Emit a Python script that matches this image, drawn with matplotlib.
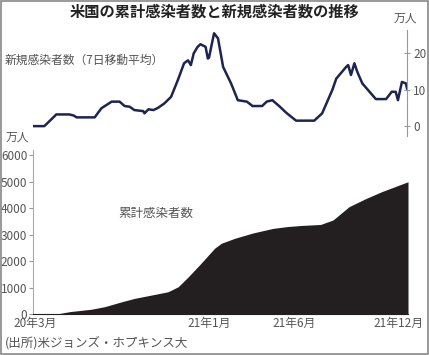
import matplotlib
matplotlib.use("Agg")
import matplotlib.pyplot as plt
import pandas as pd
from matplotlib.patches import Rectangle

plt.rcParams['font.family'] = ['Noto Sans CJK JP', 'DejaVu Sans']

# new cases, 7-day average (万人)
new_dates = ["2020-02-28", "2020-03-17", "2020-04-04", "2020-04-07", "2020-04-30", "2020-05-08",
             "2020-05-13", "2020-06-14", "2020-06-26", "2020-07-14", "2020-07-28", "2020-08-06",
             "2020-08-15", "2020-08-23", "2020-09-08", "2020-09-10", "2020-09-17", "2020-09-26",
             "2020-10-04", "2020-10-15", "2020-10-27", "2020-11-08", "2020-11-19", "2020-11-26",
             "2020-12-01", "2020-12-06", "2020-12-13", "2020-12-18", "2020-12-27", "2020-12-31",
             "2021-01-02", "2021-01-06", "2021-01-11", "2021-01-18", "2021-01-27", "2021-02-10",
             "2021-02-22", "2021-03-10", "2021-03-20", "2021-04-06", "2021-04-14", "2021-04-24",
             "2021-05-06", "2021-05-19", "2021-06-05", "2021-07-07", "2021-07-21", "2021-08-08",
             "2021-08-15", "2021-09-02", "2021-09-05", "2021-09-10", "2021-09-16", "2021-09-21",
             "2021-09-30", "2021-10-15", "2021-10-24", "2021-11-11", "2021-11-21", "2021-11-28",
             "2021-12-02", "2021-12-09", "2021-12-16", "2021-12-18"]
new_cases = [0.0, 0.0, 2.7, 3.2, 3.2, 2.9,
             2.4, 2.4, 4.9, 6.7, 6.7, 5.5,
             5.3, 4.4, 4.1, 3.5, 4.6, 4.4,
             5.0, 6.2, 8.0, 12.6, 17.2, 18.0,
             16.7, 19.9, 21.7, 22.4, 21.7, 18.5,
             18.7, 21.7, 25.4, 24.0, 16.2, 11.7,
             7.1, 6.7, 5.5, 5.5, 6.7, 7.1,
             5.5, 3.6, 1.5, 1.5, 3.5, 9.9,
             13.0, 16.3, 16.7, 14.0, 17.2, 14.9,
             11.7, 9.0, 7.4, 7.4, 9.4, 9.4,
             7.1, 12.1, 11.7, 10.3]

# cumulative cases (万人)
cum_dates = ["2020-03-01", "2020-04-10", "2020-05-01", "2020-06-08", "2020-07-02", "2020-08-01",
             "2020-08-23", "2020-09-22", "2020-10-21", "2020-11-08", "2020-11-26", "2020-12-18",
             "2021-01-11", "2021-01-23", "2021-02-16", "2021-03-20", "2021-04-24", "2021-05-19",
             "2021-06-12", "2021-07-17", "2021-08-08", "2021-09-05", "2021-10-05", "2021-11-02",
             "2021-12-03", "2021-12-18"]
cum_cases = [0, 10, 90, 180, 280, 465,
             590, 715, 840, 1030, 1410, 1910,
             2480, 2670, 2860, 3060, 3230, 3300,
             3340, 3380, 3550, 4050, 4360, 4620,
             4870, 4990]

tick_dates = ["2020-03-01", "2021-01-01", "2021-06-01", "2021-12-01"]
tick_labels = ["20年3月", "21年1月", "21年6月", "21年12月"]

new_x = pd.to_datetime(new_dates)
cum_x = pd.to_datetime(cum_dates)
tick_x = pd.to_datetime(tick_dates)
xlim = (pd.Timestamp("2020-02-26"), pd.Timestamp("2021-12-18"))

W, H = 429, 355
fig = plt.figure(figsize=(W / 100, H / 100), dpi=100)

def box(x0, y0, x1, y1):
    return [x0 / W, 1 - y1 / H, (x1 - x0) / W, (y1 - y0) / H]

gray = "#555555"

# top: new cases
ax1 = fig.add_axes(box(33, 30, 407, 136))
ax1.plot(new_x, new_cases, color="#1b2550", lw=1.8)
ax1.set_xlim(*xlim)
ax1.set_ylim(-2.7, 26.3)
for s in ["top", "left", "bottom"]:
    ax1.spines[s].set_visible(False)
ax1.spines["right"].set_color("#999999")
ax1.yaxis.tick_right()
ax1.set_yticks([0, 10, 20])
ax1.tick_params(axis="y", direction="inout", length=5, color="#999999",
                labelsize=8.5, labelcolor=gray, pad=2)
ax1.set_xticks([])
ax1.patch.set_alpha(0)

# bottom: cumulative
ax2 = fig.add_axes(box(33, 150, 408, 314))
ax2.fill_between(cum_x, cum_cases, 0, color="#231f20", lw=0)
ax2.set_xlim(*xlim)
ax2.set_ylim(0, 6190)
ax2.set_yticks([0, 1000, 2000, 3000, 4000, 5000, 6000])
ax2.set_xticks(tick_x)
ax2.set_xticklabels(tick_labels)
for s in ["top", "right"]:
    ax2.spines[s].set_visible(False)
ax2.spines["left"].set_color("#aaaaaa")
ax2.spines["bottom"].set_color("#231f20")
ax2.tick_params(axis="y", length=3, color="#999999", labelsize=8.5, labelcolor=gray, pad=1)
ax2.tick_params(axis="x", length=0, labelsize=8.5, labelcolor=gray, pad=2)
ax2.patch.set_alpha(0)

fig.text(215 / W, 1 - 12 / H, "米国の累計感染者数と新規感染者数の推移", ha="center", va="center",
         fontsize=11, fontweight="bold", color="#222222")
fig.text(405 / W, 1 - 18 / H, "万人", ha="center", va="center", fontsize=8.5, color=gray)
fig.text(5 / W, 1 - 60 / H, "新規感染者数（7日移動平均）", ha="left", va="center", fontsize=8.5, color=gray)
fig.text(6 / W, 1 - 137 / H, "万人", ha="left", va="center", fontsize=8.5, color=gray)
fig.text(118 / W, 1 - 213 / H, "累計感染者数", ha="left", va="center", fontsize=9, color=gray)
fig.text(5 / W, 1 - 343 / H, "(出所)米ジョンズ・ホプキンス大", ha="left", va="center", fontsize=9, color=gray)

fig.add_artist(Rectangle((0.5 / W, 1.5 / H), (W - 2) / W, (H - 2.5) / H, transform=fig.transFigure,
                         fill=False, edgecolor="#888888", lw=1.2))

fig.savefig("out.png", dpi=100)
